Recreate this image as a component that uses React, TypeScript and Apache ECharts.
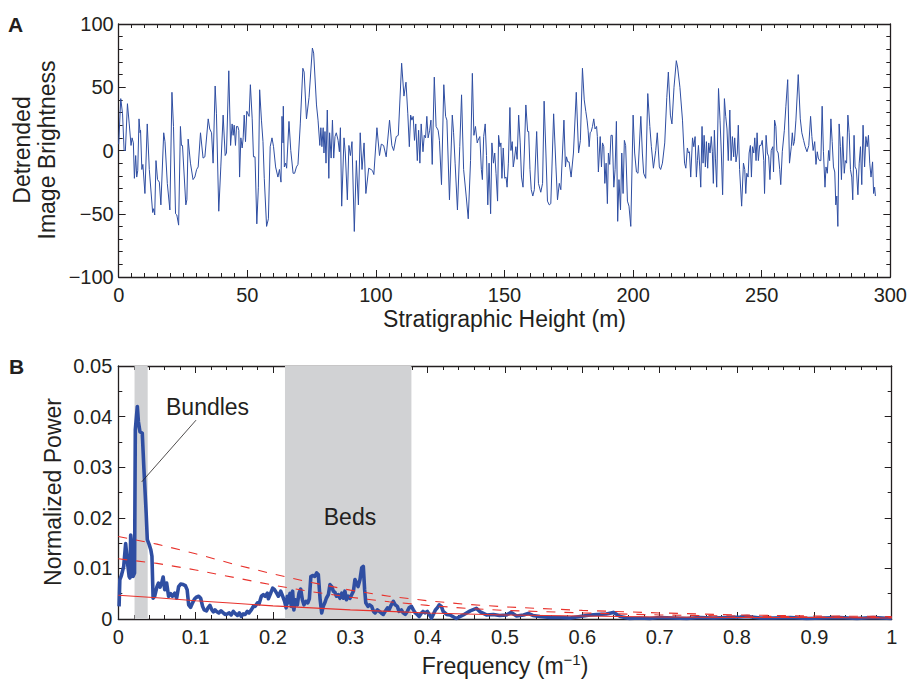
import React, { useEffect, useRef } from "react";
import * as echarts from "echarts";

const FONT = '"Liberation Sans", Arial, Helvetica, sans-serif';
const INK = "#231f20";
const BLUE = "#2f4ea2";
const RED = "#e8322c";
const BAND = "#d1d2d4";

// Panel A: [height (m), detrended brightness]
const brightnessPoints: [number, number][] = [
  [0,5],[0.8,41],[1.5,29],[2.1,0],[2.6,0],[3.4,37],[4.1,21],[4.8,4],[5.2,10],[5.7,6],[6.1,-22],[6.6,-4],[7.0,-21],[7.4,-16],[7.9,25],[8.3,14],[8.5,16],[9.0,-15],[9.4,-11],[10.2,-34],[11.1,21],[11.9,-15],[13.2,-49],[13.6,-46],[14.0,-51],[14.5,-8],[15.1,-23],[15.8,-25],[16.4,-43],[17.5,14],[18.0,7],[18.9,-26],[19.9,-47],[20.7,46],[21.3,19],[22.1,-50],[22.6,-51],[23.3,-59],[24.0,19],[24.4,4],[24.8,4],[26.1,-43],[26.5,-39],[27.0,9],[27.9,-10],[28.9,-23],[29.6,-21],[30.3,-15],[30.9,-13],[31.8,14],[32.8,-6],[33.5,-5],[34.8,25],[35.4,17],[36.1,14],[36.7,-10],[37.5,51],[38.0,29],[38.9,-48],[39.7,-13],[40.6,28],[41.4,-4],[41.9,-2],[42.8,63],[43.5,4],[44.1,21],[44.5,12],[44.9,20],[45.4,4],[45.8,19],[46.3,19],[46.7,16],[47.0,-21],[47.5,10],[48.0,2],[48.4,10],[48.8,28],[49.3,7],[49.8,31],[50.7,27],[51.2,52],[51.9,25],[52.4,-5],[53.0,-5],[53.7,-58],[54.3,-29],[54.8,48],[55.5,24],[56.1,7],[56.6,-22],[57.5,-60],[58.2,-54],[58.9,3],[59.6,10],[60.2,3],[61.0,-13],[61.9,-21],[62.5,-15],[63.1,-25],[63.5,27],[63.9,6],[64.0,35],[64.4,-13],[64.9,-10],[65.3,-14],[66.2,23],[66.9,0],[67.8,-18],[68.4,-18],[69.1,-13],[69.7,-11],[70.6,21],[71.6,65],[72.1,62],[73.0,25],[74.0,42],[75.3,81],[75.8,77],[76.9,36],[77.5,24],[78.2,4],[78.6,18],[79.0,3],[79.5,18],[79.8,-2],[80.2,15],[80.6,-10],[81.1,32],[81.7,-22],[82.0,14],[82.6,-6],[83.1,24],[83.6,-6],[84.1,11],[84.6,14],[85.3,8],[85.8,-1],[86.2,18],[86.7,-44],[87.6,10],[88.1,-2],[88.9,-39],[89.5,4],[90.1,-4],[90.7,7],[91.6,-64],[92.4,-8],[93.2,-43],[93.9,14],[94.6,-15],[95.4,6],[96.1,-34],[97.2,-14],[98.1,-15],[98.7,-16],[99.2,-19],[100.4,18],[101.4,-4],[102.1,5],[103.0,4],[104.0,-5],[105.3,24],[106.2,4],[106.9,0],[107.9,11],[108.7,12],[110.0,69],[110.9,43],[111.7,54],[112.4,29],[113.0,3],[113.5,28],[114.0,24],[114.5,27],[115.0,8],[115.5,21],[116.1,-8],[116.6,16],[117.1,-10],[117.6,21],[118.3,-1],[118.8,12],[119.3,10],[119.8,27],[120.3,10],[120.9,16],[121.4,24],[121.9,-11],[122.7,58],[123.4,19],[124.2,16],[124.7,8],[125.5,-27],[126.4,52],[127.1,27],[127.6,24],[128.6,-39],[129.7,28],[130.2,14],[130.8,-10],[131.7,-47],[132.6,3],[133.3,44],[134.1,-15],[135.1,-36],[135.9,-54],[136.8,-8],[137.5,61],[138.1,12],[138.7,19],[139.4,6],[139.7,8],[140.4,11],[141.0,-15],[141.4,-23],[141.9,11],[142.5,21],[143.0,-4],[143.5,-43],[144.0,-10],[144.6,-50],[145.1,6],[145.7,-10],[146.2,-2],[146.7,-18],[147.3,-40],[147.7,12],[148.2,3],[148.6,6],[149.0,-22],[149.5,2],[150.1,-22],[150.6,-21],[151.0,-29],[151.5,-10],[152.1,34],[152.5,0],[153.0,7],[153.4,-13],[153.9,-6],[154.4,3],[154.9,-7],[155.5,28],[156.1,6],[156.6,-21],[157.2,-29],[157.7,-2],[158.3,36],[159.0,15],[159.4,15],[159.9,-15],[160.4,-31],[161.0,-36],[161.6,-31],[162.5,15],[163.2,-26],[164.1,-33],[164.8,-26],[165.4,39],[166.1,-2],[166.7,-40],[167.4,-43],[168.0,-42],[169.1,29],[170.0,-13],[170.6,-39],[171.3,-26],[171.9,-31],[173.1,24],[173.7,-13],[174.1,-5],[174.6,-9],[175.1,-9],[175.9,-21],[176.8,-2],[177.9,46],[178.8,-2],[179.5,8],[180.3,65],[181.0,40],[181.6,31],[182.1,24],[182.5,16],[182.9,3],[183.3,14],[183.7,15],[184.2,19],[184.7,25],[185.2,17],[185.8,19],[186.1,11],[186.5,-17],[187.2,11],[187.7,-13],[188.1,6],[188.6,3],[189.0,-26],[189.5,-10],[190.0,-42],[190.4,-2],[190.9,-11],[191.4,12],[191.9,12],[192.5,-29],[193.0,-15],[193.5,23],[194.0,-56],[194.5,-23],[195.1,-47],[195.6,-2],[196.1,-34],[196.6,8],[197.1,4],[197.8,-40],[198.4,-44],[199.1,-60],[200.0,28],[200.6,-2],[201.3,-17],[201.9,-18],[203.0,27],[203.6,-2],[204.1,-18],[204.9,-22],[205.7,45],[206.5,19],[207.1,3],[207.9,-14],[208.8,0],[209.4,14],[210.2,-13],[210.7,-15],[211.4,-10],[212.3,6],[213.1,42],[213.7,62],[214.5,28],[215.1,21],[215.9,50],[216.8,71],[217.3,66],[218.2,50],[219.2,24],[220.0,-10],[220.5,-14],[221.1,2],[221.5,-2],[221.9,-1],[222.4,-21],[223.1,10],[223.6,3],[224.1,11],[224.6,-21],[225.0,-8],[225.4,4],[225.9,-13],[226.3,-29],[226.8,19],[227.2,-10],[227.6,12],[228.1,-13],[228.5,7],[229.0,-14],[229.4,6],[229.9,-2],[230.4,11],[230.8,-1],[231.2,-26],[231.6,16],[232.0,-6],[232.5,-29],[233.2,49],[233.8,24],[234.3,-2],[234.8,-35],[235.5,41],[236.0,27],[236.5,17],[237.0,-8],[237.6,32],[238.1,-8],[238.6,11],[239.1,-5],[239.5,10],[240.0,-9],[240.5,-2],[240.9,20],[241.4,-15],[242.2,-44],[242.9,-10],[243.4,-15],[243.8,-34],[244.2,-18],[244.7,-21],[245.1,-2],[245.6,4],[246.0,-21],[246.4,3],[246.9,-2],[247.3,10],[247.8,-8],[248.2,14],[248.7,-8],[249.2,4],[249.7,4],[250.2,8],[250.8,-8],[251.1,-34],[251.7,12],[252.2,-2],[252.7,-5],[253.2,-23],[253.7,0],[254.3,3],[254.6,-17],[255.0,24],[255.5,19],[255.9,0],[256.4,-2],[257.0,-15],[257.4,-27],[258.0,-1],[258.8,16],[259.4,35],[260.1,56],[260.8,-10],[261.5,3],[261.9,14],[262.3,4],[262.7,7],[263.3,24],[264.2,60],[265.0,25],[265.6,14],[266.3,8],[266.9,3],[267.6,-1],[268.3,4],[269.0,27],[269.5,11],[270.0,0],[270.6,7],[271.1,-11],[271.6,-1],[272.0,-6],[272.5,-8],[273.0,-8],[273.5,35],[274.0,-1],[274.6,-29],[275.0,-13],[275.5,-18],[276.0,0],[276.4,-8],[276.9,25],[277.4,7],[277.9,-13],[278.4,-17],[278.8,-43],[279.2,-36],[279.6,-60],[280.1,21],[280.6,3],[281.0,-23],[281.5,11],[282.1,-18],[282.5,-8],[283.0,-10],[283.5,28],[284.0,14],[284.5,-15],[285.0,-21],[285.4,-39],[285.9,12],[286.3,-13],[286.8,-15],[287.4,-35],[287.9,-10],[288.4,3],[288.9,-27],[289.4,20],[290.0,-13],[290.5,11],[291.0,3],[291.5,12],[292.0,-10],[292.5,-21],[293.1,-9],[293.5,-34],[293.9,-29],[294.2,-36]
];

// Panel B: [frequency (1/m), normalized power]
const spectrumPoints: [number, number][] = [
  [0.001,0.0025],[0.002,0.0078],[0.004,0.0086],[0.007,0.0104],[0.0095,0.0149],[0.012,0.011],[0.014,0.0084],[0.015,0.0081],[0.016,0.0166],[0.018,0.0137],[0.019,0.0084],[0.021,0.0091],[0.022,0.0374],[0.0246,0.042],[0.026,0.039],[0.028,0.037],[0.031,0.0367],[0.033,0.030],[0.036,0.021],[0.0375,0.0157],[0.040,0.0147],[0.042,0.0137],[0.0435,0.0124],[0.045,0.0041],[0.047,0.0045],[0.050,0.0064],[0.052,0.0071],[0.054,0.0063],[0.056,0.0071],[0.058,0.0083],[0.060,0.0058],[0.0625,0.0071],[0.065,0.0045],[0.0677,0.005],[0.070,0.0045],[0.073,0.0051],[0.0754,0.0041],[0.078,0.0064],[0.0806,0.0069],[0.084,0.0068],[0.0866,0.0066],[0.089,0.0058],[0.091,0.0028],[0.0935,0.0023],[0.096,0.0032],[0.0987,0.004],[0.101,0.0043],[0.104,0.0045],[0.1065,0.0041],[0.109,0.0025],[0.111,0.0018],[0.114,0.0016],[0.116,0.0022],[0.1185,0.0027],[0.121,0.0018],[0.123,0.0014],[0.125,0.0018],[0.127,0.0015],[0.130,0.0012],[0.1328,0.0016],[0.1358,0.0012],[0.138,0.0009],[0.141,0.001],[0.1435,0.0012],[0.146,0.0008],[0.1487,0.0015],[0.151,0.0011],[0.154,0.0007],[0.1565,0.0012],[0.159,0.0005],[0.1616,0.001],[0.164,0.0009],[0.1668,0.0015],[0.169,0.0012],[0.172,0.0018],[0.1746,0.0025],[0.177,0.0025],[0.18,0.0032],[0.182,0.003],[0.185,0.0045],[0.1875,0.0048],[0.19,0.0045],[0.1927,0.0051],[0.194,0.004],[0.197,0.0051],[0.1996,0.0061],[0.202,0.0058],[0.2047,0.0051],[0.207,0.0045],[0.21,0.0055],[0.2125,0.0045],[0.215,0.0035],[0.217,0.0022],[0.2185,0.0045],[0.220,0.0032],[0.222,0.0051],[0.2237,0.0025],[0.2254,0.0055],[0.227,0.0018],[0.229,0.0038],[0.2315,0.0028],[0.2336,0.0051],[0.2358,0.0059],[0.238,0.0038],[0.240,0.0028],[0.2427,0.0035],[0.245,0.0032],[0.247,0.004],[0.249,0.0084],[0.2513,0.0086],[0.254,0.0084],[0.2565,0.0091],[0.2586,0.0088],[0.261,0.0038],[0.263,0.0012],[0.265,0.0025],[0.267,0.0032],[0.269,0.0041],[0.2716,0.0048],[0.2737,0.0068],[0.276,0.0064],[0.278,0.0055],[0.280,0.0053],[0.282,0.0045],[0.2845,0.0048],[0.2866,0.0041],[0.289,0.0051],[0.291,0.0041],[0.293,0.0055],[0.295,0.0038],[0.2974,0.0045],[0.2996,0.0041],[0.3017,0.0048],[0.304,0.0055],[0.306,0.0078],[0.308,0.0071],[0.31,0.0064],[0.3125,0.0078],[0.3147,0.0101],[0.3168,0.0104],[0.3185,0.0058],[0.320,0.0032],[0.3228,0.0025],[0.325,0.0028],[0.3276,0.0025],[0.330,0.0015],[0.332,0.0012],[0.335,0.0018],[0.3375,0.0015],[0.340,0.0012],[0.3427,0.0009],[0.345,0.0015],[0.348,0.0022],[0.350,0.0018],[0.353,0.0028],[0.3556,0.0035],[0.358,0.0028],[0.3608,0.0025],[0.363,0.0015],[0.366,0.0018],[0.3685,0.0012],[0.371,0.0009],[0.3737,0.0015],[0.376,0.0022],[0.379,0.0025],[0.3815,0.0018],[0.384,0.0012],[0.3866,0.0009],[0.389,0.0005],[0.392,0.0012],[0.394,0.0015],[0.397,0.0012],[0.3996,0.0015],[0.402,0.0009],[0.405,0.0002],[0.4073,0.0009],[0.41,0.0018],[0.4125,0.0022],[0.415,0.0028],[0.4177,0.0025],[0.420,0.0015],[0.4245,0.0009],[0.429,0.0008],[0.437,0.0001],[0.446,0.0008],[0.455,0.0016],[0.463,0.0021],[0.468,0.0014],[0.476,0.0008],[0.485,0.0009],[0.493,0.0007],[0.502,0.0008],[0.508,0.0013],[0.515,0.0006],[0.524,0.0008],[0.530,0.0011],[0.536,0.0007],[0.545,0.0005],[0.558,0.0003],[0.571,0.0003],[0.584,0.0002],[0.597,0.0005],[0.61,0.0008],[0.619,0.0009],[0.631,0.001],[0.640,0.0013],[0.649,0.0005],[0.661,0.0001],[0.674,0.0002],[0.687,0.0001],[0.7,0.0003],[0.718,0.0002],[0.735,0.0001],[0.752,0.0003],[0.769,0.0002],[0.787,0.0003],[0.804,0.0004],[0.813,0.0005],[0.830,0.0002],[0.847,0.0002],[0.869,0.0003],[0.890,0.0001],[0.912,0.0002],[0.933,0.0003],[0.955,0.0001],[0.976,0.0003],[1.0,0.0001]
];

// Red-noise fit and confidence levels
const fitFrequency = [0, 0.05, 0.1, 0.15, 0.2, 0.25, 0.3, 0.35, 0.4, 0.45, 0.5, 0.6, 0.7, 0.8, 0.9, 1.0];
const redNoiseMean = [0.0047, 0.0042, 0.0036, 0.0031, 0.0026, 0.0022, 0.0018, 0.0015, 0.0012, 0.001, 0.0008, 0.0006, 0.0004, 0.0003, 0.0003, 0.0002];
const confidenceLower = [0.0119, 0.011, 0.0097, 0.0082, 0.0067, 0.0054, 0.0043, 0.0034, 0.0027, 0.0021, 0.0017, 0.0012, 0.0008, 0.0006, 0.0004, 0.0003];
const confidenceUpper = [0.0163, 0.0148, 0.0129, 0.0108, 0.0089, 0.0072, 0.0057, 0.0045, 0.0036, 0.0029, 0.0024, 0.0017, 0.0012, 0.0008, 0.0006, 0.0005];

const bundlesBand = [0.021, 0.038];
const bedsBand = [0.2155, 0.379];
const bundlesLeader: [number, number][] = [[0.1005, 0.0393], [0.0303, 0.0271]];

const zip = (xs: number[], ys: number[]) => xs.map((x, i) => [x, ys[i]]);

const tickStyle = { color: INK, width: 1 };
function axisBase(showLabel: boolean, minorSplit: number) {
  return {
    axisLine: { show: true, onZero: false, lineStyle: { color: INK, width: 1.3 } },
    axisTick: { show: true, inside: true, length: 7, lineStyle: tickStyle },
    minorTick: { show: true, splitNumber: minorSplit, length: 4, lineStyle: tickStyle },
    splitLine: { show: false },
    minorSplitLine: { show: false },
    axisLabel: { show: showLabel, color: INK, fontSize: 20, fontFamily: FONT },
  };
}

export default function App() {
  const ref = useRef<HTMLDivElement>(null);
  useEffect(() => {
    if (!ref.current) return;
    const chart = echarts.init(ref.current, undefined, { renderer: "svg" });
    const gridA = { left: 118.7, top: 24, width: 772.8, height: 253 };
    const gridB = { left: 118.3, top: 366, width: 773.4, height: 253 };

    const fmtMinus = (v: number) => String(v).replace("-", "\u2212");
    const xA = { type: "value", gridIndex: 0, min: 0, max: 300, interval: 50 };
    const yA = { type: "value", gridIndex: 0, min: -100, max: 100, interval: 50 };
    const xB = { type: "value", gridIndex: 1, min: 0, max: 1, interval: 0.1 };
    const yB = { type: "value", gridIndex: 1, min: 0, max: 0.05, interval: 0.01 };

    const option: any = {
      animation: false,
      backgroundColor: "#ffffff",
      grid: [
        { ...gridA, containLabel: false },
        { ...gridB, containLabel: false },
      ],
      xAxis: [
        {
          ...xA, position: "bottom", ...axisBase(true, 10),
          axisLabel: { ...axisBase(true, 10).axisLabel, margin: 8, formatter: fmtMinus },
          name: "Stratigraphic Height (m)", nameLocation: "middle", nameGap: 30,
          nameTextStyle: { color: INK, fontSize: 23, fontFamily: FONT },
        },
        { ...xA, position: "top", ...axisBase(false, 10) },
        {
          ...xB, position: "bottom", ...axisBase(true, 5),
          axisLabel: {
            ...axisBase(true, 5).axisLabel, margin: 8,
            formatter: (v: number) => (v === 0 ? "0" : v === 1 ? "1" : v.toFixed(1)),
          },
          name: "Frequency (m{sup|\u22121})", nameLocation: "middle", nameGap: 33,
          nameTextStyle: {
            color: INK, fontSize: 23, fontFamily: FONT,
            rich: { sup: { fontSize: 15, fontFamily: FONT, color: INK, verticalAlign: "top", padding: [0, 0, 12, 0] } },
          },
        },
        { ...xB, position: "top", ...axisBase(false, 5) },
      ],
      yAxis: [
        {
          ...yA, position: "left", ...axisBase(true, 5),
          axisLabel: { ...axisBase(true, 5).axisLabel, margin: 5, formatter: fmtMinus },
        },
        { ...yA, position: "right", ...axisBase(false, 5) },
        {
          ...yB, position: "left", ...axisBase(true, 2),
          axisLabel: {
            ...axisBase(true, 2).axisLabel, margin: 6,
            formatter: (v: number) => (v === 0 ? "0" : v.toFixed(2)),
          },
        },
        { ...yB, position: "right", ...axisBase(false, 2) },
      ],
      series: [
        {
          type: "line", xAxisIndex: 0, yAxisIndex: 0, data: brightnessPoints,
          showSymbol: false, lineStyle: { color: BLUE, width: 1 }, z: 3,
        },
        {
          type: "line", xAxisIndex: 2, yAxisIndex: 2, data: [], z: 1,
          markArea: {
            silent: true,
            itemStyle: { color: BAND, opacity: 1 },
            data: [
              [{ xAxis: bundlesBand[0] }, { xAxis: bundlesBand[1] }],
              [{ xAxis: bedsBand[0] }, { xAxis: bedsBand[1] }],
            ],
          },
        },
        {
          type: "line", xAxisIndex: 2, yAxisIndex: 2, data: spectrumPoints,
          showSymbol: false, lineStyle: { color: BLUE, width: 3.6, join: "round" }, z: 3,
        },
        {
          type: "line", xAxisIndex: 2, yAxisIndex: 2, data: zip(fitFrequency, redNoiseMean),
          showSymbol: false, lineStyle: { color: RED, width: 1.1 }, z: 4,
        },
        {
          type: "line", xAxisIndex: 2, yAxisIndex: 2, data: zip(fitFrequency, confidenceLower),
          showSymbol: false, lineStyle: { color: RED, width: 1.1, type: [9, 9] }, z: 4,
        },
        {
          type: "line", xAxisIndex: 2, yAxisIndex: 2, data: zip(fitFrequency, confidenceUpper),
          showSymbol: false, lineStyle: { color: RED, width: 1.1, type: [9, 9] }, z: 4,
        },
        {
          type: "line", xAxisIndex: 2, yAxisIndex: 2, data: bundlesLeader,
          showSymbol: false, lineStyle: { color: INK, width: 0.8 }, z: 5,
        },
      ],
      graphic: [
        { type: "text", left: 8, top: 14, style: { text: "A", fontSize: 21, fontWeight: "bold", fontFamily: FONT, fill: INK } },
        { type: "text", left: 9, top: 356, style: { text: "B", fontSize: 21, fontWeight: "bold", fontFamily: FONT, fill: INK } },
        {
          type: "text", x: 34, y: 150, rotation: Math.PI / 2,
          style: {
            text: "Detrended\nImage Brightness", fontSize: 23, lineHeight: 25, fontFamily: FONT, fill: INK,
            align: "center", verticalAlign: "middle",
          },
        },
        {
          type: "text", x: 53, y: 492, rotation: Math.PI / 2,
          style: { text: "Normalized Power", fontSize: 23, fontFamily: FONT, fill: INK, align: "center", verticalAlign: "middle" },
        },
        {
          type: "text", x: 166, y: 407, z: 10,
          style: { text: "Bundles", fontSize: 23, fontFamily: FONT, fill: INK, align: "left", verticalAlign: "middle" },
        },
        {
          type: "text", x: 350, y: 517, z: 10,
          style: { text: "Beds", fontSize: 23, fontFamily: FONT, fill: INK, align: "center", verticalAlign: "middle" },
        },
      ],
    };
    chart.setOption(option);
    return () => chart.dispose();
  }, []);
  return <div ref={ref} style={{ position: "fixed", left: 0, top: 0, width: 910, height: 680 }} />;
}
